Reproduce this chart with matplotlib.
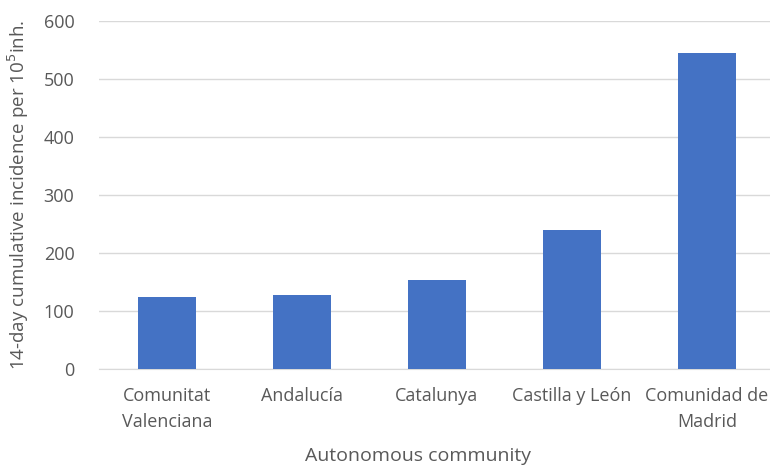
import matplotlib
matplotlib.use("Agg")
import matplotlib.pyplot as plt

# data
communities = ["Comunitat\nValenciana", "Andalucía", "Catalunya",
               "Castilla y León", "Comunidad de\nMadrid"]
incidence = [125, 127, 153, 239, 544]
yticks = [0, 100, 200, 300, 400, 500, 600]

plt.rcParams['font.family'] = ['Open Sans', 'DejaVu Sans']
txt = '#595959'

fig = plt.figure(figsize=(7.7, 4.65), dpi=100)
ax = fig.add_axes([99.5 / 770, 1 - 369 / 465, 675 / 770, 348 / 465])

x = range(len(communities))
ax.bar(x, incidence, width=0.43, color='#4472C4', zorder=3)

ax.set_xlim(-0.5, len(communities) - 0.5)
ax.set_ylim(0, 600)
ax.set_yticks(yticks)
ax.yaxis.grid(True, color='#D9D9D9', linewidth=1, zorder=0)
ax.tick_params(length=0, labelsize=13, colors=txt)
ax.tick_params(axis='y', pad=18)
ax.tick_params(axis='x', pad=13)
ax.set_xticks(list(x))
ax.set_xticklabels(communities, linespacing=1.6)

for s in ['top', 'right', 'left']:
    ax.spines[s].set_visible(False)
ax.spines['bottom'].set_color('#D9D9D9')

ax.set_xlabel('Autonomous community', fontsize=14, color=txt)
ax.xaxis.set_label_coords(0.472, -0.225)
ax.set_ylabel('14-day cumulative incidence per 10$^5$inh.', fontsize=13.5,
              color=txt, labelpad=9)

fig.savefig('out.png', dpi=100)
